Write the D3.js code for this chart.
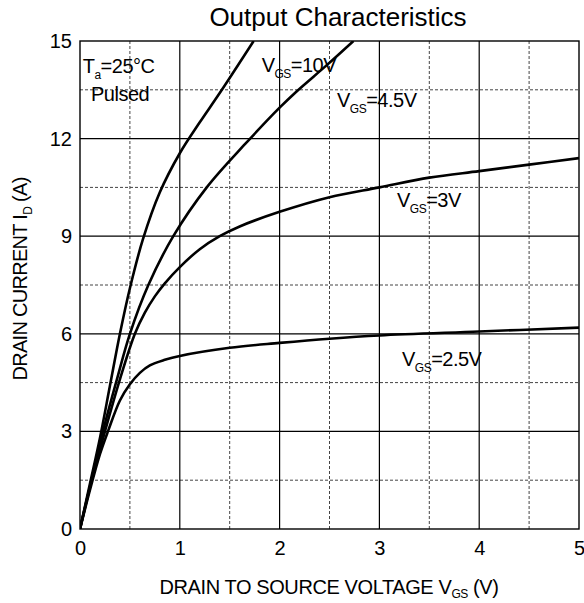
<!DOCTYPE html>
<html>
<head>
<meta charset="utf-8">
<script src="https://cdn.jsdelivr.net/npm/d3@7"></script>
<style>
  body { margin: 0; background: #fff; }
  text { font-family: "Liberation Sans", Arial, sans-serif; fill: #000; }
</style>
</head>
<body>
<svg id="chart" width="584" height="603"></svg>
<script>
// curve data: [VDS (V), ID (A)]
const vgs10 = [[0,0],[0.1,1.4],[0.2,2.8],[0.3,4.4],[0.4,6.0],[0.5,7.4],[0.63,8.9],[0.8,10.35],[1.0,11.55],[1.2,12.5],[1.4,13.4],[1.74,15.0]];
const vgs45 = [[0,0],[0.1,1.3],[0.23,3.0],[0.37,4.6],[0.5,6.0],[0.685,7.5],[0.935,9.0],[1.27,10.5],[1.66,11.85],[2.0,12.95],[2.17,13.45],[2.47,14.25],[2.74,15.0]];
const vgs3 = [[0,0],[0.1,1.3],[0.25,3.0],[0.4,4.6],[0.55,6.0],[0.65,6.65],[0.75,7.15],[0.85,7.55],[1.0,8.05],[1.2,8.6],[1.4,9.0],[1.6,9.3],[2.0,9.75],[2.5,10.2],[3.0,10.5],[3.5,10.8],[4.0,11.0],[4.5,11.2],[5.0,11.4]];
const vgs25 = [[0,0],[0.1,1.2],[0.2,2.3],[0.28,3.0],[0.4,3.95],[0.5,4.45],[0.6,4.8],[0.7,5.03],[0.85,5.2],[1.0,5.32],[1.5,5.57],[2.0,5.72],[2.5,5.85],[3.0,5.95],[4.0,6.07],[5.0,6.19]];
const series = [vgs10, vgs45, vgs3, vgs25];

const xTicks = [0, 1, 2, 3, 4, 5];
const yTicks = [0, 3, 6, 9, 12, 15];
const xMinor = [0.5, 1.5, 2.5, 3.5, 4.5];
const yMinor = [1.5, 4.5, 7.5, 10.5, 13.5];

// annotation text: [x (V), y (A), parts] ; parts: [text, isSubscript]
const notes = [
  [0.027, 14.01, [["T", 0], ["a", 1], ["=25°C", 0]]],
  [0.11, 13.16, [["Pulsed", 0]]],
  [1.82, 14.05, [["V", 0], ["GS", 1], ["=10V", 0]]],
  [2.575, 12.97, [["V", 0], ["GS", 1], ["=4.5V", 0]]],
  [3.176, 9.9, [["V", 0], ["GS", 1], ["=3V", 0]]],
  [3.226, 5.02, [["V", 0], ["GS", 1], ["=2.5V", 0]]]
];

const title = "Output Characteristics";
const xTitle = [["DRAIN TO SOURCE VOLTAGE V", 0], ["GS", 1], [" (V)", 0]];
const yTitle = [["DRAIN CURRENT I", 0], ["D", 1], [" (A)", 0]];

const margin = {left: 80, top: 41, right: 5, bottom: 74};
const svg = d3.select("#chart");
const width = 584 - margin.left - margin.right;
const height = 603 - margin.top - margin.bottom;

const x = d3.scaleLinear().domain([0, 5]).range([0, width]);
const y = d3.scaleLinear().domain([0, 15]).range([height, 0]);

const g = svg.append("g").attr("transform", `translate(${margin.left},${margin.top})`);

g.append("clipPath").attr("id", "clip")
  .append("rect").attr("width", width).attr("height", height);

// minor grid (dashed)
g.selectAll(".xminor").data(xMinor).enter().append("line")
  .attr("x1", d => x(d)).attr("x2", d => x(d))
  .attr("y1", 0).attr("y2", height)
  .style("stroke", "#444").style("stroke-width", 1).style("stroke-dasharray", "3,2");
g.selectAll(".yminor").data(yMinor).enter().append("line")
  .attr("y1", d => y(d)).attr("y2", d => y(d))
  .attr("x1", 0).attr("x2", width)
  .style("stroke", "#444").style("stroke-width", 1).style("stroke-dasharray", "3,2");

// major grid (solid)
g.selectAll(".xmajor").data(xTicks.slice(1, -1)).enter().append("line")
  .attr("x1", d => x(d)).attr("x2", d => x(d))
  .attr("y1", 0).attr("y2", height)
  .style("stroke", "#000").style("stroke-width", 1.2);
g.selectAll(".ymajor").data(yTicks.slice(1, -1)).enter().append("line")
  .attr("y1", d => y(d)).attr("y2", d => y(d))
  .attr("x1", 0).attr("x2", width)
  .style("stroke", "#000").style("stroke-width", 1.2);

g.append("rect").attr("width", width).attr("height", height)
  .style("fill", "none").style("stroke", "#000").style("stroke-width", 1.4);

// axes (labels only)
const xAxis = g.append("g").attr("transform", `translate(0,${height})`)
  .call(d3.axisBottom(x).tickValues(xTicks).tickFormat(d3.format("d")).tickSize(0).tickPadding(12));
const yAxis = g.append("g")
  .call(d3.axisLeft(y).tickValues(yTicks).tickFormat(d3.format("d")).tickSize(0).tickPadding(8));
[xAxis, yAxis].forEach(a => {
  a.select(".domain").remove();
  a.selectAll("text").style("font-size", "20px").style("font-family", "'Liberation Sans', Arial, sans-serif");
});

// curves
const line = d3.line().x(d => x(d[0])).y(d => y(d[1])).curve(d3.curveCatmullRom.alpha(0.5));
g.append("g").attr("clip-path", "url(#clip)")
  .selectAll("path").data(series).enter().append("path")
  .attr("d", line)
  .style("fill", "none").style("stroke", "#000").style("stroke-width", 2.6);

function writeParts(t, parts, size, subSize, drop) {
  let down = false;
  parts.forEach(p => {
    const ts = t.append("tspan").text(p[0]);
    if (p[1] && !down) { ts.attr("dy", drop).style("font-size", subSize + "px"); down = true; }
    else if (!p[1] && down) { ts.attr("dy", -drop).style("font-size", size + "px"); down = false; }
    else ts.style("font-size", (p[1] ? subSize : size) + "px");
  });
}

notes.forEach(n => {
  const t = g.append("text").attr("x", x(n[0])).attr("y", y(n[1]))
    .style("font-size", "20px").style("letter-spacing", "-0.5px");
  writeParts(t, n[2], 20, 12, 6);
});

svg.append("text").attr("x", 338).attr("y", 26).attr("text-anchor", "middle")
  .style("font-size", "26px").text(title);

const xt = svg.append("text").attr("x", 329).attr("y", 594).attr("text-anchor", "middle")
  .style("font-size", "20px").style("letter-spacing", "-0.4px");
writeParts(xt, xTitle, 20, 12, 4);

const yt = svg.append("text").attr("transform", "translate(27,279) rotate(-90)")
  .attr("text-anchor", "middle")
  .style("font-size", "20px").style("letter-spacing", "-0.7px");
writeParts(yt, yTitle, 20, 12, 5);
</script>
</body>
</html>
